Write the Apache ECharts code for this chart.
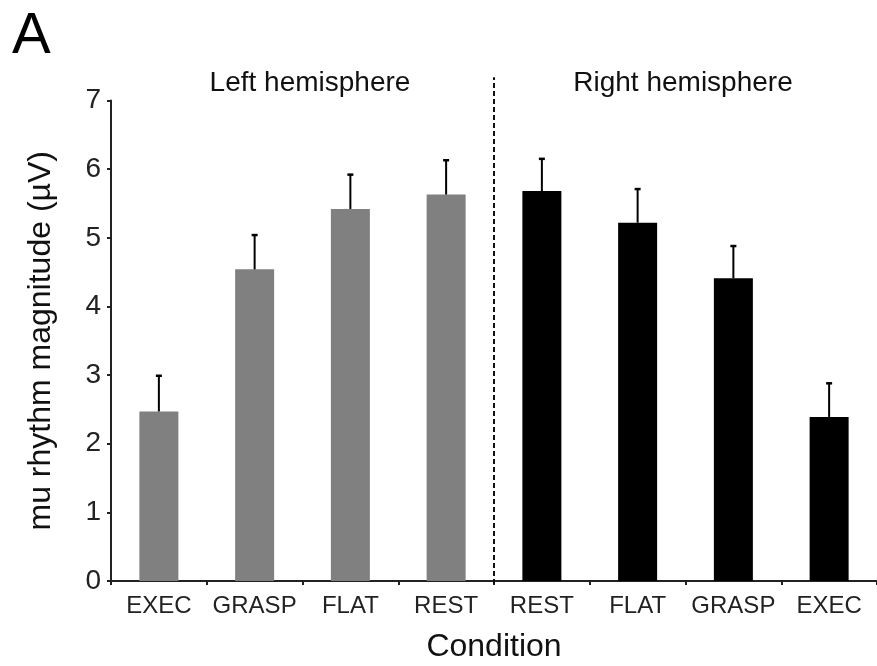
<!DOCTYPE html>
<html>
<head>
<meta charset="utf-8">
<script src="https://cdn.jsdelivr.net/npm/echarts@6/dist/echarts.min.js"></script>
<style>
html,body{margin:0;padding:0;background:#fff;}
#chart{width:877px;height:666px;}
</style>
</head>
<body>
<div id="chart"></div>
<script>
var categories = ['EXEC', 'GRASP', 'FLAT', 'REST', 'REST', 'FLAT', 'GRASP', 'EXEC'];
var leftValues = [2.47, 4.54, 5.42, 5.63];
var leftErrors = [0.52, 0.50, 0.50, 0.50];
var rightValues = [5.68, 5.22, 4.41, 2.39];
var rightErrors = [0.47, 0.49, 0.47, 0.49];
var yTicks = [0, 1, 2, 3, 4, 5, 6, 7];
var panelLabel = 'A';
var groupLabels = ['Left hemisphere', 'Right hemisphere'];

var FONT = '"Liberation Sans", Arial, Helvetica, sans-serif';
var values = leftValues.concat(rightValues);
var errors = leftErrors.concat(rightErrors);
var barData = values.map(function (v, i) {
  return { value: v, itemStyle: { color: i < leftValues.length ? '#808080' : '#000000' } };
});
var errData = values.map(function (v, i) { return [i, v, v + errors[i]]; });

var chart = echarts.init(document.getElementById('chart'), null, { renderer: 'canvas' });
chart.setOption({
  backgroundColor: '#ffffff',
  animation: false,
  grid: { left: 111, right: 0, top: 100.5, bottom: 85, containLabel: false, outerBoundsMode: 'none' },
  graphic: [
    { type: 'text', left: 12, top: 8, style: { text: panelLabel, font: '58px ' + FONT, fill: '#000' } },
    { type: 'text', x: 310, y: 83, style: { text: groupLabels[0], font: '28px ' + FONT, fill: '#111', align: 'center', verticalAlign: 'middle' } },
    { type: 'text', x: 683, y: 83, style: { text: groupLabels[1], font: '28px ' + FONT, fill: '#111', align: 'center', verticalAlign: 'middle' } }
  ],
  xAxis: {
    type: 'category',
    data: categories,
    name: 'Condition',
    nameLocation: 'middle',
    nameGap: 50,
    nameTextStyle: { fontFamily: FONT, fontSize: 32, color: '#111' },
    axisLine: { lineStyle: { color: '#222', width: 2 } },
    axisTick: { show: true, length: 4, alignWithLabel: false, lineStyle: { color: '#222', width: 2 } },
    axisLabel: { fontFamily: FONT, fontSize: 24, color: '#222', margin: 13, interval: 0 },
    splitLine: { show: false }
  },
  yAxis: {
    type: 'value',
    min: yTicks[0],
    max: yTicks[yTicks.length - 1],
    interval: 1,
    name: 'mu rhythm magnitude (\u00b5V)',
    nameLocation: 'middle',
    nameRotate: 90,
    nameGap: 54,
    nameTextStyle: { fontFamily: FONT, fontSize: 32, color: '#111' },
    axisLine: { show: true, lineStyle: { color: '#222', width: 2 } },
    axisTick: { show: true, length: 4, lineStyle: { color: '#222', width: 2 } },
    axisLabel: { fontFamily: FONT, fontSize: 28, color: '#222', margin: 10 },
    splitLine: { show: false }
  },
  series: [
    {
      type: 'bar',
      data: barData,
      barWidth: 39,
      z: 2
    },
    {
      type: 'custom',
      data: errData,
      z: 3,
      renderItem: function (params, api) {
        var x = api.value(0);
        var p0 = api.coord([x, api.value(1)]);
        var p1 = api.coord([x, api.value(2)]);
        return {
          type: 'group',
          children: [
            { type: 'line', shape: { x1: p0[0], y1: p0[1], x2: p1[0], y2: p1[1] }, style: { stroke: '#000', lineWidth: 2 } },
            { type: 'line', shape: { x1: p1[0] - 3, y1: p1[1], x2: p1[0] + 3, y2: p1[1] }, style: { stroke: '#000', lineWidth: 2.5 } }
          ]
        };
      }
    },
    {
      type: 'custom',
      data: [[leftValues.length - 1, 0, 7.34]],
      z: 4,
      clip: false,
      renderItem: function (params, api) {
        var i = api.value(0);
        var half = api.size([1, 0])[0] / 2;
        var b = api.coord([i, api.value(1)]);
        var t = api.coord([i, api.value(2)]);
        return {
          type: 'line',
          shape: { x1: b[0] + half, y1: b[1] + 3, x2: t[0] + half, y2: t[1] },
          style: { stroke: '#111', lineWidth: 2, lineDash: [5, 3] }
        };
      }
    }
  ]
});
</script>
</body>
</html>
